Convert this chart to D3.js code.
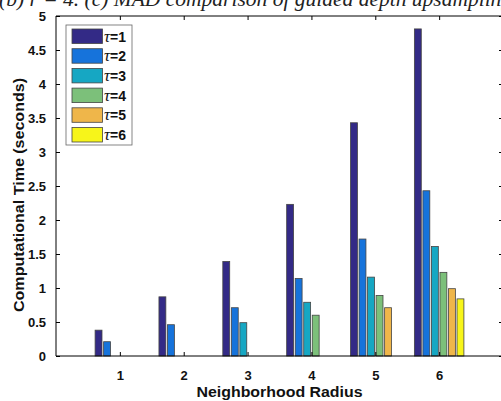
<!DOCTYPE html>
<html><head><meta charset="utf-8">
<script src="https://cdn.jsdelivr.net/npm/d3@7"></script>
<style>body{margin:0;background:#fff;overflow:hidden}svg{display:block}</style>
</head><body>
<script>
const radii = [1, 2, 3, 4, 5, 6];
const seriesNames = ["τ=1", "τ=2", "τ=3", "τ=4", "τ=5", "τ=6"];
const t1 = [0.38, 0.87, 1.39, 2.23, 3.43, 4.81];
const t2 = [0.21, 0.46, 0.71, 1.14, 1.72, 2.43];
const t3 = [null, null, 0.49, 0.79, 1.16, 1.61];
const t4 = [null, null, null, 0.60, 0.89, 1.23];
const t5 = [null, null, null, null, 0.71, 0.99];
const t6 = [null, null, null, null, null, 0.84];
const colors = ["#332a86", "#1673db", "#16a7c3", "#7cc07a", "#efb64a", "#f7f51a"];
const yTicks = [0, 0.5, 1, 1.5, 2, 2.5, 3, 3.5, 4, 4.5, 5];
const series = [t1, t2, t3, t4, t5, t6];

const W = 501, H = 401;
const svg = d3.select("body").append("svg").attr("width", W).attr("height", H);
const L = 56, R = 503, T = 16, B = 356;
const x = d3.scaleLinear().domain([0, 7]).range([L, R]);
const y = d3.scaleLinear().domain([0, 5]).range([B, T]);
const unit = x(1) - x(0);
const step = 0.1335, bw = 0.108;
const sans = "Liberation Sans, Arial, sans-serif";

// caption (cut off at top)
svg.append("text").attr("x", -1).attr("y", 6)
  .attr("font-family", "Liberation Serif, serif").attr("font-style", "italic")
  .attr("font-size", 21.5).attr("fill", "#222")
  .text("(b) r = 4. (c) MAD comparison of guided depth upsampling");

// bars
series.forEach((vals, si) => {
  svg.append("g").selectAll("rect").data(vals.map((v, i) => ({v, c: radii[i]})).filter(d => d.v != null))
    .join("rect")
    .attr("x", d => x(d.c + (si - 2.5) * step - bw / 2))
    .attr("width", bw * unit)
    .attr("y", d => y(d.v))
    .attr("height", d => y(0) - y(d.v))
    .attr("fill", colors[si]).attr("stroke", "#444").attr("stroke-width", 0.8);
});

// axes box
const g = svg.append("g");
g.append("line").attr("x1", L).attr("x2", R).attr("y1", B).attr("y2", B).attr("stroke", "#000");
g.append("line").attr("x1", L).attr("x2", R).attr("y1", T).attr("y2", T).attr("stroke", "#000");
g.append("line").attr("x1", L).attr("x2", L).attr("y1", T).attr("y2", B).attr("stroke", "#000");
g.append("line").attr("x1", R).attr("x2", R).attr("y1", T).attr("y2", B).attr("stroke", "#000");

// x ticks (inward, bottom and top)
const xAxisB = d3.axisBottom(x).tickValues(radii).tickSizeInner(-4).tickSizeOuter(0).tickPadding(15).tickFormat(d3.format("d"));
const gx = svg.append("g").attr("transform", `translate(0,${B})`).call(xAxisB);
gx.select(".domain").remove();
gx.selectAll("text").attr("font-family", sans).attr("font-weight", "bold").attr("font-size", 13).attr("fill", "#111");
const gxt = svg.append("g").attr("transform", `translate(0,${T})`).call(d3.axisTop(x).tickValues(radii).tickSizeInner(-4).tickSizeOuter(0).tickFormat(""));
gxt.select(".domain").remove();

// y ticks
const yAxisL = d3.axisLeft(y).tickValues(yTicks).tickSizeInner(-4).tickSizeOuter(0).tickPadding(10).tickFormat(d => d3.format("")(d));
const gy = svg.append("g").attr("transform", `translate(${L},0)`).call(yAxisL);
gy.select(".domain").remove();
gy.selectAll("text").attr("font-family", sans).attr("font-weight", "bold").attr("font-size", 13).attr("fill", "#111");
const gyr = svg.append("g").attr("transform", `translate(${R},0)`).call(d3.axisRight(y).tickValues(yTicks).tickSizeInner(-4).tickSizeOuter(0).tickFormat(""));
gyr.select(".domain").remove();

// axis labels
svg.append("text").attr("x", (L + R) / 2).attr("y", 397).attr("text-anchor", "middle")
  .attr("font-family", sans).attr("font-weight", "bold").attr("font-size", 14).attr("fill", "#111")
  .attr("textLength", 166).attr("lengthAdjust", "spacingAndGlyphs")
  .text("Neighborhood Radius");
svg.append("text").attr("transform", "translate(24,195) rotate(-90)").attr("text-anchor", "middle")
  .attr("font-family", sans).attr("font-weight", "bold").attr("font-size", 14).attr("fill", "#111")
  .attr("textLength", 234).attr("lengthAdjust", "spacingAndGlyphs")
  .text("Computational Time (seconds)");

// legend
const lg = svg.append("g");
lg.append("rect").attr("x", 66).attr("y", 25).attr("width", 66).attr("height", 120)
  .attr("fill", "#fff").attr("stroke", "#666").attr("stroke-width", 0.8);
seriesNames.forEach((name, i) => {
  const yy = 29 + i * 19.7;
  lg.append("rect").attr("x", 72).attr("y", yy).attr("width", 30.5).attr("height", 14.5)
    .attr("fill", colors[i]).attr("stroke", "#444").attr("stroke-width", 0.8);
  const t = lg.append("text").attr("x", 104).attr("y", yy + 12.5).attr("fill", "#111");
  t.append("tspan").attr("font-family", "Liberation Serif, serif").attr("font-style", "italic").attr("font-size", 17).text(name[0]);
  t.append("tspan").attr("font-family", sans).attr("font-weight", "bold").attr("font-size", 14).text(name.slice(1));
});
</script>
</body></html>
